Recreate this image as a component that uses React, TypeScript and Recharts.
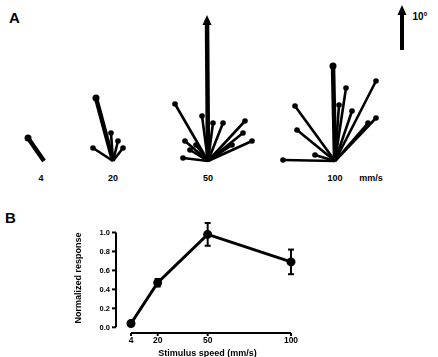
import React from "react"
import {
    ScatterChart, Scatter, XAxis, YAxis, ReferenceDot,
    LineChart, Line, ErrorBar, ReferenceLine
} from "recharts"

// stimulus speeds (mm/s)
const SPEEDS = [4, 20, 50, 100]

// panel A: response vectors for each speed, [dx, dy] in the units of the scale bar
const VECTORS_4 = [[-4, 5.75]]
const VECTORS_20 = [[-4.25, 15.75], [-5, 3.25], [2.5, 3.25], [-0.5, 7], [1.25, 5]]
const VECTORS_50 = [
    [-0.25, 35.25], [-8.25, 14.25], [-1.5, 11.25], [3.75, 9.5], [9.25, 10], [8.75, 7],
    [11, 5], [-5.75, 5], [-6.25, 0.75], [-4.5, 2.75], [1.25, 9.5], [6, 4], [-3, 4],
]
const VECTORS_100 = [
    [-0.5, 23.75], [2.75, 18.25], [10.25, 20], [-10, 13.75], [4.25, 12.5],
    [10.25, 10.75], [8.25, 9.5], [-9.5, 7.75], [-13, 0.25], [-5, 1.5], [1, 14],
]
const FAN_VECTORS = [VECTORS_4, VECTORS_20, VECTORS_50, VECTORS_100]
const SCALE_BAR = 10
const SCALE_LABEL = "10°"

// panel B: normalized response vs speed
const RESPONSE = [0.04, 0.47, 0.98, 0.69]
const RESPONSE_ERR = [0.02, 0.04, 0.12, 0.13]
const Y_TICKS = [0, 0.2, 0.4, 0.6, 0.8, 1.0]

// layout of panel A (axis units, 4px per unit)
const FAN_X = [11, 28.25, 52, 83.75]
const FAN_BASE = 7.25
const SCALE_X = 100.5
const SCALE_BASE = 35

const FONT = "'Liberation Sans', Arial, sans-serif"
const INK = "#000"

const lineData = SPEEDS.map((s, i) => ({ x: s, y: RESPONSE[i], err: RESPONSE_ERR[i] }))

function TipShape(props: any) {
    const { cx, cy, payload } = props
    if (!payload || !payload.tip) return <g />
    if (payload.tip === "head") {
        return <polygon points={`${cx},${cy - 5} ${cx - 4.5},${cy + 5} ${cx + 4.5},${cy + 5}`} fill={INK} />
    }
    return <circle cx={cx} cy={cy} r={payload.r || 2.5} fill={INK} />
}

function Fans() {
    const series: any[] = []
    FAN_VECTORS.forEach((vecs, f) => {
        const longest = Math.max(...vecs.map(([dx, dy]) => Math.hypot(dx, dy)))
        vecs.forEach(([dx, dy], k) => {
            const main = Math.hypot(dx, dy) === longest
            const head = main && f === 2
            series.push(
                <Scatter
                    key={`f${f}-${k}`}
                    data={[
                        { x: FAN_X[f], y: FAN_BASE },
                        { x: FAN_X[f] + dx, y: FAN_BASE + dy, tip: head ? "head" : "ball", r: main ? 3.5 : 2.8 },
                    ]}
                    line={{ stroke: INK, strokeWidth: main ? 4.5 : 2.6 }}
                    shape={TipShape}
                    isAnimationActive={false}
                />
            )
        })
    })
    return series
}

const textStyle = { fill: INK, stroke: "none", fontWeight: 700, fontFamily: FONT }

export default function App() {
    return (
        <div style={{ position: "absolute", left: 0, top: 0, width: 438, height: 357, background: "#fff", fontFamily: FONT, color: INK }}>
            <span style={{ position: "absolute", left: 9, top: 9, fontSize: 15, fontWeight: 900 }}>A</span>
            <span style={{ position: "absolute", left: 5, top: 209, fontSize: 15, fontWeight: 900 }}>B</span>

            <div style={{ position: "absolute", left: 0, top: 0 }}>
                <ScatterChart width={438} height={190} margin={{ top: 0, right: 0, bottom: 0, left: 0 }}>
                    <XAxis type="number" dataKey="x" domain={[0, 109.5]} hide />
                    <YAxis type="number" dataKey="y" domain={[0, 47.5]} hide />
                    {Fans()}
                    <Scatter
                        data={[{ x: SCALE_X, y: SCALE_BASE }, { x: SCALE_X, y: SCALE_BASE + SCALE_BAR, tip: "head" }]}
                        line={{ stroke: INK, strokeWidth: 4 }}
                        shape={TipShape}
                        isAnimationActive={false}
                    />
                    <ReferenceDot x={SCALE_X + 4.5} y={SCALE_BASE + SCALE_BAR - 1.5} r={0}
                        label={{ value: SCALE_LABEL, position: "center", fill: INK, fontSize: 10, fontWeight: 900 }} />
                    {SPEEDS.map((s, i) => (
                        <ReferenceDot key={s} x={FAN_X[i] - (i === 0 ? 0.75 : 0)} y={3} r={0}
                            label={{ value: String(s), position: "center", fill: INK, fontSize: 9, fontWeight: 900 }} />
                    ))}
                    <ReferenceDot x={FAN_X[3] + 9} y={3} r={0}
                        label={{ value: "mm/s", position: "center", fill: INK, fontSize: 9, fontWeight: 900 }} />
                </ScatterChart>
            </div>

            <div style={{ position: "absolute", left: 0, top: 200, willChange: "transform" }}>
                <LineChart width={438} height={157} data={lineData} margin={{ top: 23, right: 147, bottom: 0, left: 0 }}>
                    <XAxis
                        type="number"
                        dataKey="x"
                        domain={[-5, 100]}
                        ticks={SPEEDS}
                        stroke={INK}
                        axisLine={false}
                        tickSize={3}
                        tickMargin={1}
                        height={24}
                        tickLine={{ stroke: INK, strokeWidth: 2 }}
                        tick={{ ...textStyle, fontSize: 8.5 }}
                        label={{ value: "Stimulus speed (mm/s)", position: "insideBottom", offset: 1, dx: 4, ...textStyle, fontSize: 9 }}
                    />
                    <YAxis
                        type="number"
                        domain={[-0.06, 1]}
                        ticks={Y_TICKS}
                        stroke={INK}
                        axisLine={false}
                        width={116}
                        tickSize={4}
                        tickMargin={2}
                        tickLine={{ stroke: INK, strokeWidth: 2 }}
                        tickFormatter={(v) => Number(v).toFixed(1)}
                        tick={{ ...textStyle, fontSize: 7.5 }}
                        label={{ value: "Normalized response", angle: -90, position: "insideLeft", offset: 78, ...textStyle, fontSize: 9, style: { textAnchor: "middle" } }}
                    />
                    <ReferenceLine segment={[{ x: -5, y: 0 }, { x: -5, y: 1 }]} stroke={INK} strokeWidth={2} />
                    <ReferenceLine segment={[{ x: 4, y: -0.06 }, { x: 100, y: -0.06 }]} stroke={INK} strokeWidth={2} />
                    <Line
                        type="linear"
                        dataKey="y"
                        stroke={INK}
                        strokeWidth={3}
                        dot={{ r: 3, fill: INK, stroke: INK }}
                        isAnimationActive={false}
                    >
                        <ErrorBar dataKey="err" width={3} stroke={INK} strokeWidth={2} direction="y" />
                    </Line>
                </LineChart>
            </div>
        </div>
    )
}
